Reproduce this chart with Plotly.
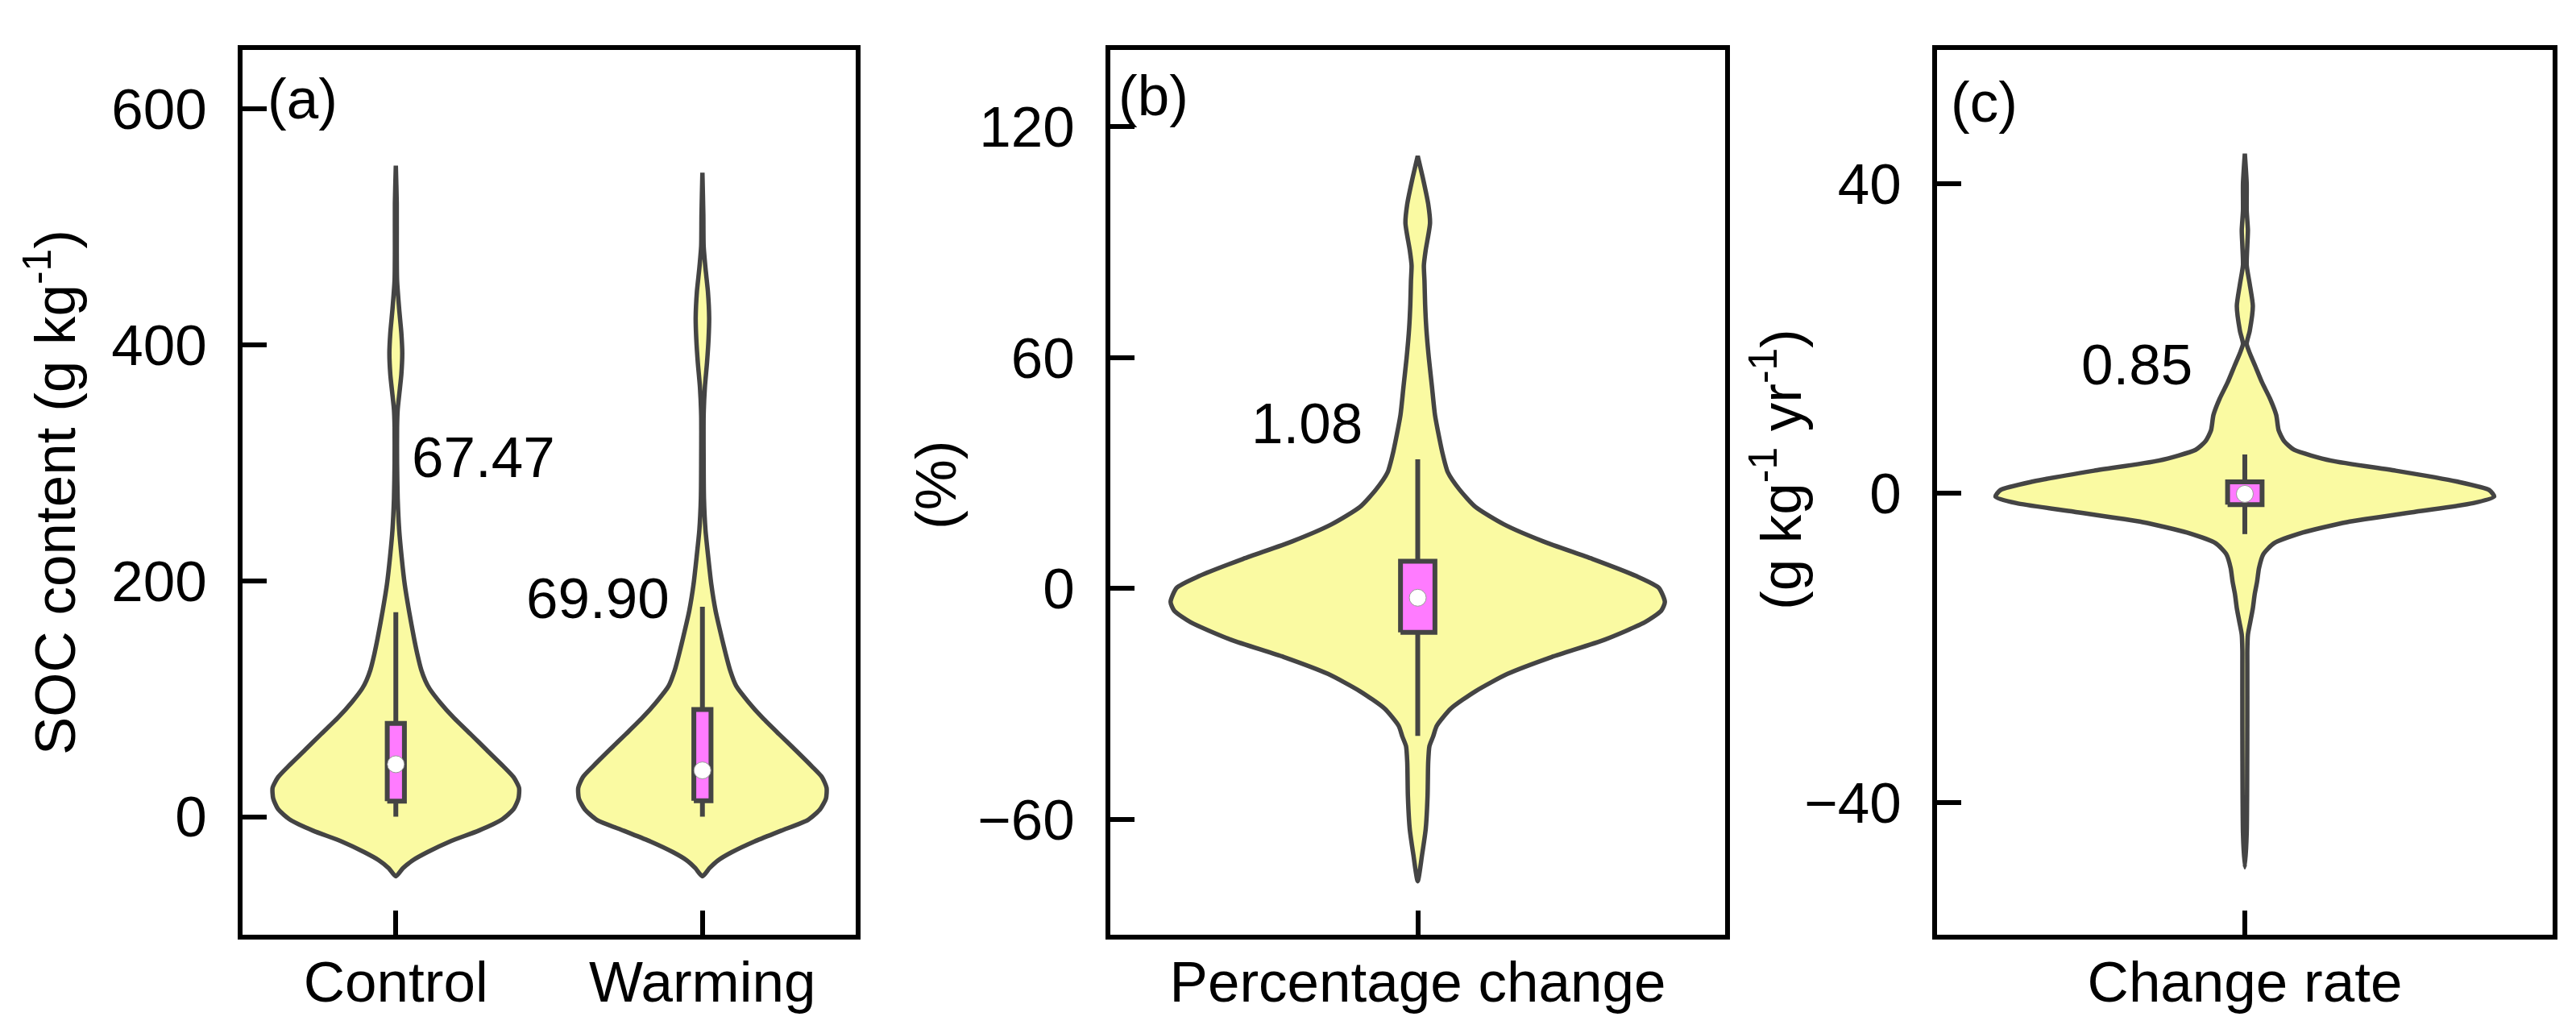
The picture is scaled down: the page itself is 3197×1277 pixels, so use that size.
import plotly.graph_objects as go

# ---------------- data ----------------
# Panel (a): SOC content, violin density profiles (value, half-width in category units)
a_categories = ["Control", "Warming"]
ctrl_y = [-50.5, -43.6, -36.8, -30, -20.9, -11.8, -2.7, 6.4, 15.5, 24.5, 33.6, 42.7, 56.4, 70, 83.6,
          97.3, 108.6, 115.5, 124.5, 138, 151.8, 174.5, 197, 220, 243, 270, 300, 330, 345, 360,
          375, 393, 410, 430, 455, 480, 520, 552]
ctrl_hw = [0.0, 0.023, 0.056, 0.103, 0.177, 0.27, 0.344, 0.384, 0.400, 0.402, 0.384, 0.351, 0.297, 0.244, 0.19,
           0.143, 0.11, 0.096, 0.083, 0.07, 0.059, 0.043, 0.029, 0.019, 0.011, 0.006, 0.004, 0.004, 0.006, 0.012,
           0.018, 0.021, 0.018, 0.011, 0.004, 0.003, 0.003, 0.0]
warm_y = [-50.5, -43.6, -36.8, -30, -20.9, -11.8, -2.7, 6.4, 15.5, 24.5, 33.6, 42.7, 56.4, 70, 83.6,
          97.3, 111, 124.5, 138, 151.8, 174.5, 197, 220, 243, 270, 300, 340, 364, 385, 405,
          423, 445, 465, 484, 510, 546]
warm_hw = [0.0, 0.023, 0.052, 0.096, 0.17, 0.257, 0.344, 0.384, 0.403, 0.405, 0.39, 0.357, 0.304, 0.25, 0.197,
           0.15, 0.11, 0.09, 0.076, 0.063, 0.043, 0.029, 0.019, 0.01, 0.005, 0.004, 0.004, 0.008, 0.015, 0.02,
           0.022, 0.018, 0.01, 0.004, 0.003, 0.0]
a_q1 = [13.2, 13.6]
a_q3 = [79.1, 90.9]
a_median = [44.5, 39.3]
a_whisk_lo = [0.0, 0.0]
a_whisk_hi = [173.4, 178.0]
a_values = ["67.47", "69.90"]
a_ticks = [0, 200, 400, 600]

# Panel (b): percentage change
b_categories = ["Percentage change"]
pct_y = [-76.1, -69.3, -62.5, -53.9, -45.3, -41, -38.5, -35.7, -31.2, -26.7, -22.2, -17.8, -13.3, -8.8,
         -5.8, -3.5, 0.2, 3.2, 7.7, 12.2, 16.7, 21.2, 25.7, 30.2, 34.7, 39.2, 45.2, 52.7, 60.1, 67.6,
         74, 80, 84, 88, 95, 100, 107, 112.4]
pct_hw = [0.0, 0.007, 0.013, 0.016, 0.017, 0.019, 0.025, 0.031, 0.054, 0.094, 0.146, 0.218, 0.304, 0.369,
          0.396, 0.402, 0.392, 0.356, 0.284, 0.205, 0.14, 0.094, 0.068, 0.049, 0.041, 0.035, 0.028, 0.023, 0.018, 0.014,
          0.012, 0.011, 0.010, 0.013, 0.020, 0.017, 0.008, 0.0]
b_q1 = [-11.4]
b_q3 = [7.1]
b_median = [-2.4]
b_whisk_lo = [-38.3]
b_whisk_hi = [33.6]
b_values = ["1.08"]
b_ticks = [-60, 0, 60, 120]

# Panel (c): change rate
c_categories = ["Change rate"]
rate_y = [-48.4, -44, -30, -22, -20.4, -18.3, -16.6, -14.9, -13.1, -11.4, -9.7, -7.9, -6.5, -5.1, -3.75,
          -2.4, -1.3, -0.45, 0.4, 1.5, 2.9, 4.2, 5.6, 6.7, 8.1, 10.1, 12.2, 14.3, 16.4, 18.1,
          19.3, 21, 24.2, 27, 29.5, 32, 34, 36.5, 40, 43.9]
rate_hw = [0.0, 0.003, 0.004, 0.004, 0.004, 0.005, 0.009, 0.013, 0.016, 0.02, 0.023, 0.03, 0.047, 0.094, 0.166,
           0.278, 0.371, 0.405, 0.397, 0.344, 0.245, 0.14, 0.08, 0.064, 0.055, 0.051, 0.041, 0.028, 0.017, 0.008,
           0.003, 0.008, 0.013, 0.008, 0.003, 0.004, 0.005, 0.003, 0.003, 0.0]
c_q1 = [-1.5]
c_q3 = [1.46]
c_median = [-0.1]
c_whisk_lo = [-5.3]
c_whisk_hi = [5.0]
c_values = ["0.85"]
c_ticks = [-40, 0, 40]

# ---------------- styling ----------------
FONT = "Liberation Sans, Arial, sans-serif"
FS = 71
VIOLIN_FILL = "#FAFAA2"
EDGE = "#444444"
BOX_FILL = "#FF7BFF"
BOX_HW = 0.028

W, H = 3197, 1277
fig = go.Figure()


def add_violin(ax, center, ys, hws):
    xs = [center + w for w in hws] + [center - w for w in reversed(hws)]
    yy = list(ys) + list(reversed(ys))
    fig.add_trace(go.Scatter(x=xs, y=yy, mode="lines", fill="toself", fillcolor=VIOLIN_FILL,
                             line=dict(color=EDGE, width=5.5, shape="spline", smoothing=0.6),
                             xaxis="x" + ax, yaxis="y" + ax, hoverinfo="skip", showlegend=False))


def add_box(ax, center, q1, q3, med, lo, hi):
    fig.add_trace(go.Scatter(x=[center, center], y=[lo, hi], mode="lines",
                             line=dict(color=EDGE, width=6), xaxis="x" + ax, yaxis="y" + ax,
                             hoverinfo="skip", showlegend=False))
    fig.add_trace(go.Scatter(x=[center - BOX_HW, center + BOX_HW, center + BOX_HW, center - BOX_HW, center - BOX_HW],
                             y=[q1, q1, q3, q3, q1], mode="lines", fill="toself", fillcolor=BOX_FILL,
                             line=dict(color=EDGE, width=6), xaxis="x" + ax, yaxis="y" + ax,
                             hoverinfo="skip", showlegend=False))
    fig.add_trace(go.Scatter(x=[center], y=[med], mode="markers",
                             marker=dict(color="white", size=21, line=dict(color="#999999", width=1)),
                             xaxis="x" + ax, yaxis="y" + ax, hoverinfo="skip", showlegend=False))


# panel a
add_violin("", 0, ctrl_y, ctrl_hw)
add_violin("", 1, warm_y, warm_hw)
for i in range(2):
    add_box("", i, a_q1[i], a_q3[i], a_median[i], a_whisk_lo[i], a_whisk_hi[i])
# panel b
add_violin("2", 0, pct_y, pct_hw)
add_box("2", 0, b_q1[0], b_q3[0], b_median[0], b_whisk_lo[0], b_whisk_hi[0])
# panel c
add_violin("3", 0, rate_y, rate_hw)
add_box("3", 0, c_q1[0], c_q3[0], c_median[0], c_whisk_lo[0], c_whisk_hi[0])

# ---------------- axes ----------------
y_dom = [1 - 1152 / H, 1 - 54 / H]
x_doms = [[293 / W, 1054 / W], [1370 / W, 2133 / W], [2396 / W, 3160 / W]]


def minus(v):
    return str(v).replace("-", "\u2212")


common = dict(showline=True, mirror=True, linecolor="black", linewidth=6, ticks="inside",
              ticklen=30, tickwidth=6, tickcolor="black", showgrid=False, zeroline=False,
              tickfont=dict(family=FONT, size=FS, color="black"))
common_x = dict(common, ticklabelstandoff=-8)
common_y = dict(common, ticklabelstandoff=24)

fig.update_layout(
    width=W, height=H, margin=dict(l=0, r=0, t=0, b=0),
    paper_bgcolor="white", plot_bgcolor="white", showlegend=False,
    xaxis=dict(common_x, domain=x_doms[0], range=[-0.5, 1.5], tickvals=[0, 1], ticktext=a_categories, anchor="y"),
    xaxis2=dict(common_x, domain=x_doms[1], range=[-0.5, 0.5], tickvals=[0], ticktext=b_categories, anchor="y2"),
    xaxis3=dict(common_x, domain=x_doms[2], range=[-0.5, 0.5], tickvals=[0], ticktext=c_categories, anchor="y3"),
    yaxis=dict(common_y, domain=y_dom, range=[-100, 650], tickvals=a_ticks,
               ticktext=[minus(v) for v in a_ticks], anchor="x"),
    yaxis2=dict(common_y, domain=y_dom, range=[-90, 140], tickvals=b_ticks,
                ticktext=[minus(v) for v in b_ticks], anchor="x2"),
    yaxis3=dict(common_y, domain=y_dom, range=[-57.1, 57.3], tickvals=c_ticks,
                ticktext=[minus(v) for v in c_ticks], anchor="x3"),
)

tfont = dict(family=FONT, size=FS, color="black")
ann = []
# value labels
ann.append(dict(x=0.285, y=305, xref="x", yref="y", text=a_values[0], showarrow=False, font=tfont))
ann.append(dict(x=0.66, y=185.5, xref="x", yref="y", text=a_values[1], showarrow=False, font=tfont))
ann.append(dict(x=-0.18, y=42.9, xref="x2", yref="y2", text=b_values[0], showarrow=False, font=tfont))
ann.append(dict(x=-0.175, y=16.6, xref="x3", yref="y3", text=c_values[0], showarrow=False, font=tfont))
# panel letters
ann.append(dict(x=322 / W, y=1 - 115 / H, xref="paper", yref="paper", text="(a)", showarrow=False,
                xanchor="left", yanchor="middle", font=tfont))
ann.append(dict(x=1378 / W, y=1 - 110 / H, xref="paper", yref="paper", text="(b)", showarrow=False,
                xanchor="left", yanchor="middle", font=tfont))
ann.append(dict(x=2411 / W, y=1 - 119 / H, xref="paper", yref="paper", text="(c)", showarrow=False,
                xanchor="left", yanchor="middle", font=tfont))
# axis titles
ymid = (y_dom[0] + y_dom[1]) / 2
ann.append(dict(x=55 / W, y=ymid, xref="paper", yref="paper", text="SOC content (g kg<sup>-1</sup>)",
                textangle=-90, showarrow=False, xanchor="center", yanchor="middle", font=tfont))
ann.append(dict(x=1154 / W, y=1 - 594 / H, xref="paper", yref="paper", text="(%)",
                textangle=-90, showarrow=False, xanchor="center", yanchor="middle", font=tfont))
ann.append(dict(x=2197 / W, y=1 - 575 / H, xref="paper", yref="paper", text="(g kg<sup>-1</sup> yr<sup>-1</sup>)",
                textangle=-90, showarrow=False, xanchor="center", yanchor="middle", font=tfont))
fig.update_layout(annotations=ann)

fig.write_html("out.html")
